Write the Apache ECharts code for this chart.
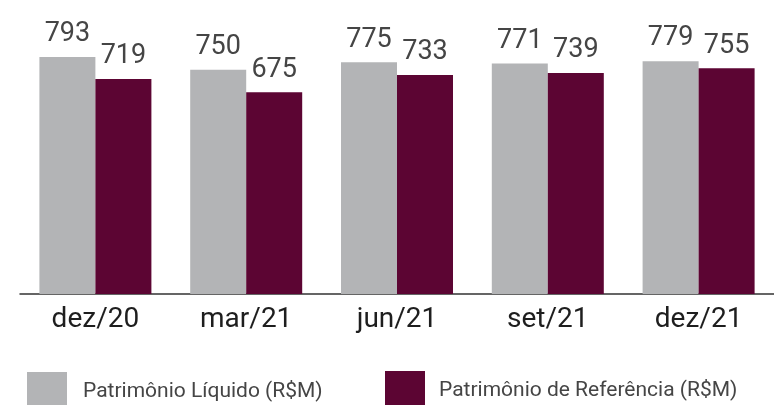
<!DOCTYPE html>
<html>
<head>
<meta charset="utf-8">
<script src="https://cdn.jsdelivr.net/npm/echarts@6/dist/echarts.min.js"></script>
<style>html,body{margin:0;padding:0;background:#fff}#c{width:774px;height:405px}</style>
</head>
<body>
<div id="c"></div>
<script>
const categories = ['dez/20', 'mar/21', 'jun/21', 'set/21', 'dez/21'];
const seriesNames = ['Patrimônio Líquido (R$M)', 'Patrimônio de Referência (R$M)'];
const patrimonioLiquido = [793, 750, 775, 771, 779];
const patrimonioReferencia = [719, 675, 733, 739, 755];

const GREY = '#b3b4b6';
const WINE = '#5c0533';
const FONT = 'Roboto';

const chart = echarts.init(document.getElementById('c'), null, {renderer: 'canvas'});
const labelCfg = {
  show: true, position: 'top', distance: 9,
  fontFamily: FONT, fontSize: 27, color: '#454545'
};
chart.setOption({
  animation: false,
  grid: {left: 20, width: 755, top: 25, bottom: 111, containLabel: false},
  legend: [
    {data: [seriesNames[0]], left: 27, top: 372, padding: 0, itemWidth: 40, itemHeight: 40, icon: 'rect',
     textStyle: {fontFamily: FONT, fontSize: 21, color: '#454545', padding: [0, 0, 0, 11]}},
    {data: [seriesNames[1]], left: 385, top: 371, padding: 0, itemWidth: 40, itemHeight: 40, icon: 'rect',
     textStyle: {fontFamily: FONT, fontSize: 21, color: '#454545', padding: [0, 0, 0, 9]}}
  ],
  xAxis: {
    type: 'category', data: categories,
    axisLine: {show: true, lineStyle: {color: '#333', width: 1.5}},
    axisTick: {show: false},
    axisLabel: {margin: 12, fontFamily: FONT, fontSize: 28, color: '#1e1e1e'}
  },
  yAxis: {type: 'value', min: 0, max: 900, show: false, splitLine: {show: false}},
  series: [
    {name: seriesNames[0], type: 'bar', data: patrimonioLiquido, barWidth: 56, barGap: '0%',
     itemStyle: {color: GREY}, label: labelCfg},
    {name: seriesNames[1], type: 'bar', data: patrimonioReferencia, barWidth: 56, barGap: '0%',
     itemStyle: {color: WINE}, label: labelCfg}
  ]
});
</script>
</body>
</html>
